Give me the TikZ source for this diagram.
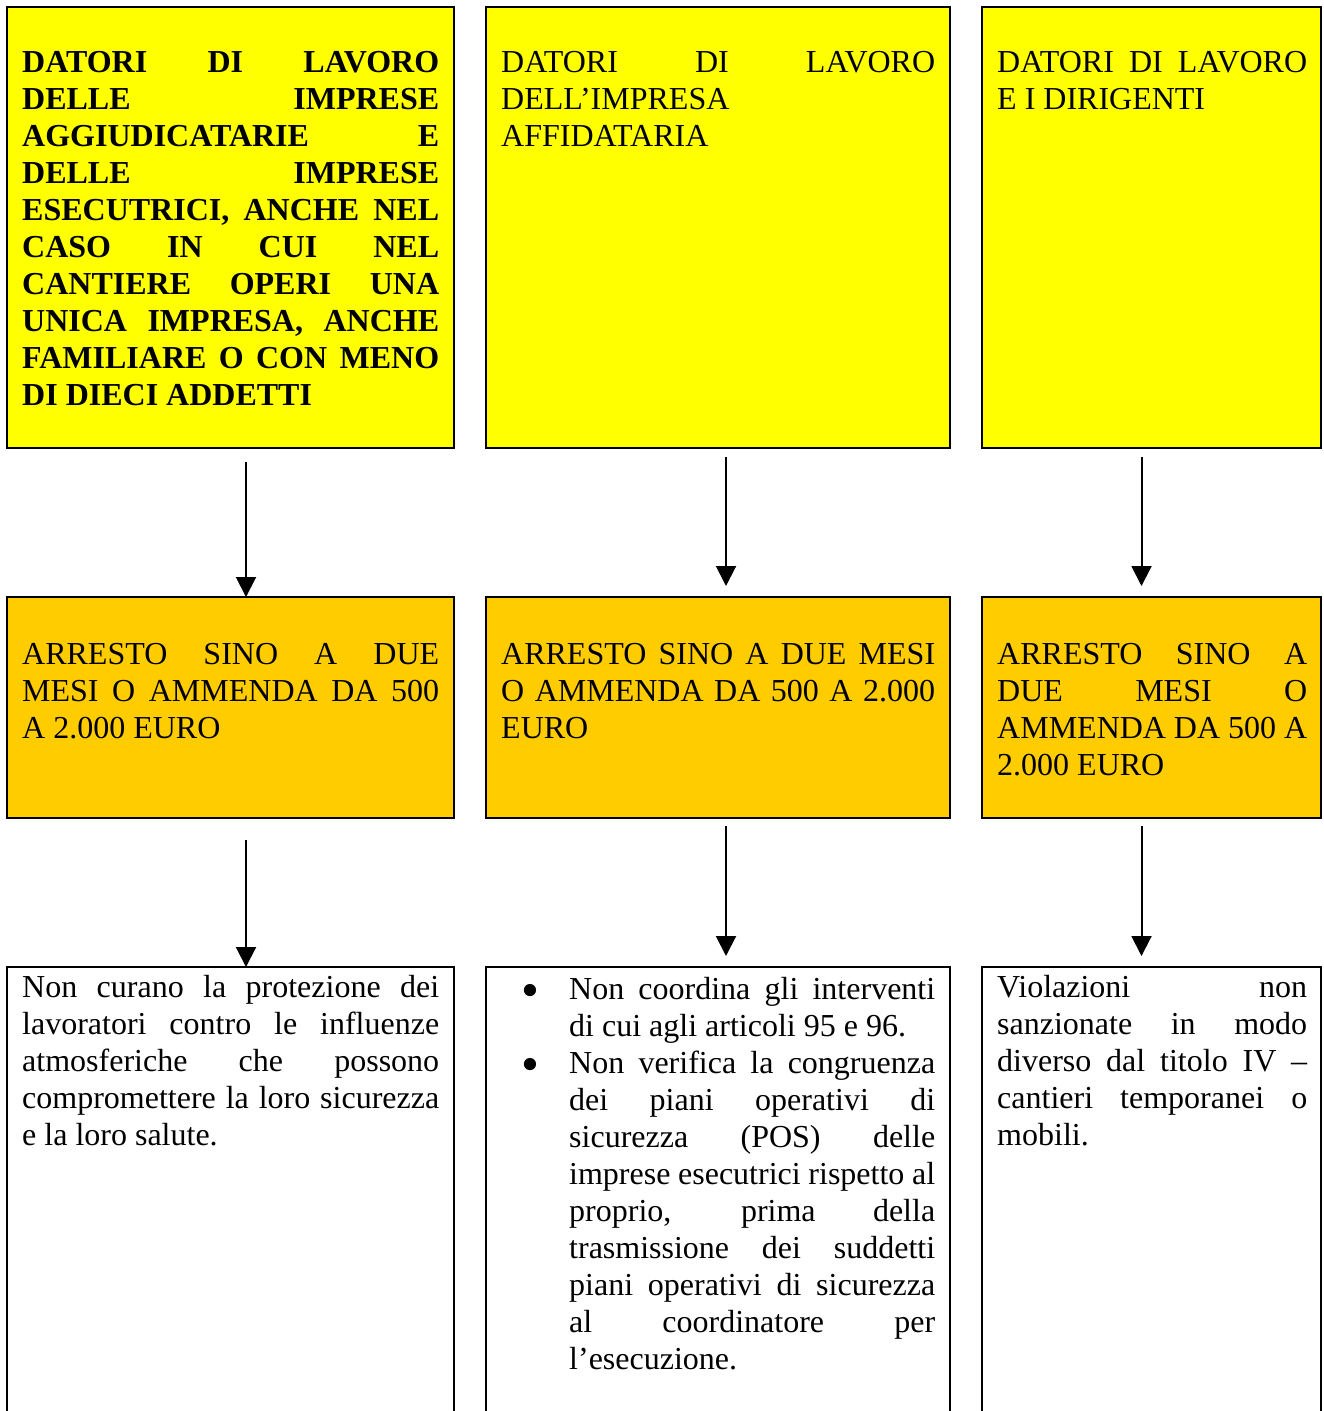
\documentclass[tikz,border=0pt]{standalone}
\usepackage{fontspec}
\usepackage{graphicx}
\setmainfont{Liberation Serif}
\usetikzlibrary{arrows.meta, positioning}
\tolerance=9999
\hyphenpenalty=10000
\hbadness=10000
\definecolor{boxyellow}{HTML}{FFFF00}
\definecolor{boxorange}{HTML}{FFCC00}
\newcommand{\itembullet}{\makebox[68pt][l]{\hspace{29pt}\makebox[0pt]{\raisebox{-8pt}{\scalebox{1.6}{\textbullet}}}}}
\tikzset{
	box/.style={draw, line width=2.5pt, inner sep=0pt, outer sep=0pt, anchor=north west},
	yellowbox/.style={box, fill=boxyellow, minimum height=441pt},
	orangebox/.style={box, fill=boxorange, minimum height=221pt},
	whitebox/.style={box, fill=white, line width=2pt, minimum height=453pt},
	boxtext/.style={inner sep=0pt, anchor=base west, align=justify,
		font=\fontsize{32}{37}\selectfont},
	arrowline/.style={line width=2pt, -{Triangle[length=20pt, width=20pt]}}
}
\begin{document}
\begin{tikzpicture}[x=1pt, y=-1pt]
	\useasboundingbox (0,0) rectangle (1323,1411);
	% draw rectangle nodes
	\node[yellowbox, minimum width=447pt] (dat1) at (7,7) {};
	\node[yellowbox, minimum width=464pt] (dat2) at (486,7) {};
	\node[yellowbox, minimum width=339pt] (dat3) at (982,7) {};
	\node[orangebox, minimum width=447pt] (pen1) at (7,597) {};
	\node[orangebox, minimum width=464pt] (pen2) at (486,597) {};
	\node[orangebox, minimum width=339pt] (pen3) at (982,597) {};
	\node[whitebox, minimum width=447pt] (vio1) at (7,967) {};
	\node[whitebox, minimum width=464pt] (vio2) at (486,967) {};
	\node[whitebox, minimum width=339pt] (vio3) at (982,967) {};
	% texts
	\node[boxtext,
	text width=417pt] (datText1) at ([shift={(15,65)}]dat1.north west) {\bfseries
	DATORI DI LAVORO\linebreak DELLE IMPRESE\linebreak AGGIUDICATARIE E\linebreak
	DELLE IMPRESE\linebreak ESECUTRICI, ANCHE NEL\linebreak CASO IN CUI NEL\linebreak
	CANTIERE OPERI UNA\linebreak UNICA IMPRESA, ANCHE\linebreak
	FAMILIARE O CON MENO\linebreak DI DIECI ADDETTI
	};
	\node[boxtext,
	text width=434pt] (datText2) at ([shift={(15,65)}]dat2.north west) {
	DATORI DI LAVORO\linebreak DELL’IMPRESA\linebreak AFFIDATARIA
	};
	\node[boxtext,
	text width=310pt] (datText3) at ([shift={(15,65)}]dat3.north west) {
	DATORI DI LAVORO\linebreak E I DIRIGENTI
	};
	\node[boxtext,
	text width=417pt] (penText1) at ([shift={(15,67)}]pen1.north west) {
	ARRESTO SINO A DUE\linebreak MESI O AMMENDA DA 500\linebreak A 2.000 EURO
	};
	\node[boxtext,
	text width=434pt] (penText2) at ([shift={(15,67)}]pen2.north west) {
	ARRESTO SINO A DUE MESI\linebreak O AMMENDA DA 500 A 2.000\linebreak EURO
	};
	\node[boxtext,
	text width=310pt] (penText3) at ([shift={(15,67)}]pen3.north west) {
	ARRESTO SINO A\linebreak DUE MESI O\linebreak AMMENDA DA 500 A\linebreak 2.000 EURO
	};
	\node[boxtext,
	text width=417pt] (vioText1) at ([shift={(15,30)}]vio1.north west) {
	Non curano la protezione dei\linebreak lavoratori contro le influenze\linebreak
	atmosferiche che possono\linebreak compromettere la loro sicurezza\linebreak
	e la loro salute.
	};
	\node[boxtext,
	text width=434pt] (vioText2) at ([shift={(15,32)}]vio2.north west) {%
	\itembullet\hangindent=68pt\hangafter=1
	Non coordina gli interventi\linebreak di cui agli articoli 95 e 96.\par
	\itembullet\hangindent=68pt\hangafter=1
	Non verifica la congruenza\linebreak dei piani operativi di\linebreak
	sicurezza (POS) delle\linebreak imprese esecutrici rispetto al\linebreak
	proprio, prima della\linebreak trasmissione dei suddetti\linebreak
	piani operativi di sicurezza\linebreak al coordinatore per\linebreak
	l’esecuzione.\par
	};
	\node[boxtext,
	text width=310pt] (vioText3) at ([shift={(15,30)}]vio3.north west) {
	Violazioni non\linebreak sanzionate in modo\linebreak diverso dal titolo IV –\linebreak
	cantieri temporanei o\linebreak mobili.
	};
	% Arrows
	\draw[arrowline] ([xshift=15.5pt, yshift=-14pt]dat1.south) -- ([xshift=15.5pt]pen1.north);
	\draw[arrowline] ([xshift=8pt, yshift=-9pt]dat2.south) -- ([xshift=8pt, yshift=11pt]pen2.north);
	\draw[arrowline] ([xshift=-10pt, yshift=-9pt]dat3.south) -- ([xshift=-10pt, yshift=11pt]pen3.north);
	\draw[arrowline] ([xshift=15.5pt, yshift=-22pt]pen1.south) -- ([xshift=15.5pt]vio1.north);
	\draw[arrowline] ([xshift=8pt, yshift=-8pt]pen2.south) -- ([xshift=8pt, yshift=11pt]vio2.north);
	\draw[arrowline] ([xshift=-10pt, yshift=-8pt]pen3.south) -- ([xshift=-10pt, yshift=11pt]vio3.north);
\end{tikzpicture}
\end{document}
